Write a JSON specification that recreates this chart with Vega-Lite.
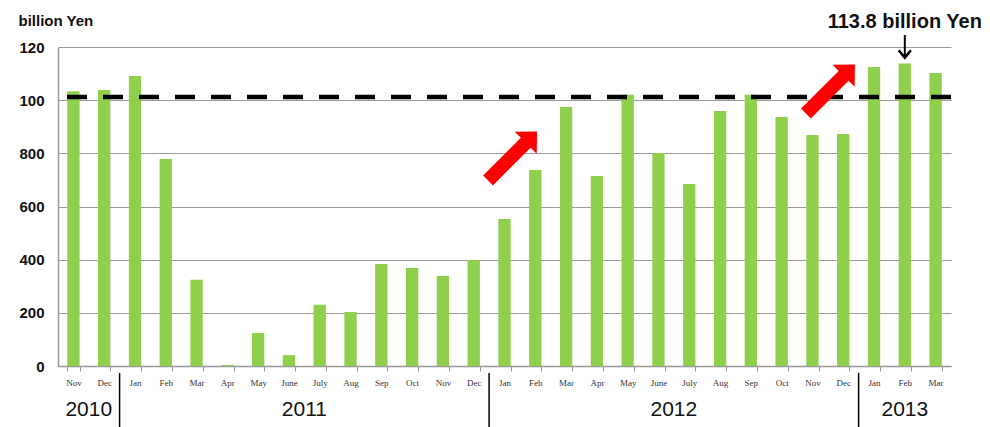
{
  "$schema": "https://vega.github.io/schema/vega-lite/v6.json",
  "width": 893,
  "height": 319,
  "autosize": {"type": "none"},
  "padding": {"left": 58, "top": 47, "right": 39, "bottom": 61},
  "background": "white",
  "config": {"view": {"stroke": null}},
  "data": {"values": [
    {"m": "Nov 2010", "v": 1034},
    {"m": "Dec 2010", "v": 1038},
    {"m": "Jan 2011", "v": 1091},
    {"m": "Feb 2011", "v": 779},
    {"m": "Mar 2011", "v": 324},
    {"m": "Apr 2011", "v": 4},
    {"m": "May 2011", "v": 124},
    {"m": "June 2011", "v": 41},
    {"m": "July 2011", "v": 230},
    {"m": "Aug 2011", "v": 203},
    {"m": "Sep 2011", "v": 384},
    {"m": "Oct 2011", "v": 369},
    {"m": "Nov 2011", "v": 339},
    {"m": "Dec 2011", "v": 399},
    {"m": "Jan 2012", "v": 553},
    {"m": "Feb 2012", "v": 737},
    {"m": "Mar 2012", "v": 974},
    {"m": "Apr 2012", "v": 715},
    {"m": "May 2012", "v": 1020},
    {"m": "June 2012", "v": 801},
    {"m": "July 2012", "v": 685},
    {"m": "Aug 2012", "v": 959},
    {"m": "Sep 2012", "v": 1020},
    {"m": "Oct 2012", "v": 937},
    {"m": "Nov 2012", "v": 869},
    {"m": "Dec 2012", "v": 873},
    {"m": "Jan 2013", "v": 1125},
    {"m": "Feb 2013", "v": 1138},
    {"m": "Mar 2013", "v": 1102}
  ]},
  "encoding": {
    "x": {
      "field": "m", "type": "nominal", "sort": null,
      "scale": {
        "domain": ["Nov 2010","Dec 2010","Jan 2011","Feb 2011","Mar 2011","Apr 2011","May 2011","June 2011","July 2011","Aug 2011","Sep 2011","Oct 2011","Nov 2011","Dec 2011","Jan 2012","Feb 2012","Mar 2012","Apr 2012","May 2012","June 2012","July 2012","Aug 2012","Sep 2012","Oct 2012","Nov 2012","Dec 2012","Jan 2013","Feb 2013","Mar 2013"],
        "paddingInner": 0.6, "paddingOuter": 0.3
      },
      "axis": {
        "title": null, "labelAngle": 0,
        "labelExpr": "split(datum.label, ' ')[0]",
        "labelFont": "Liberation Serif", "labelFontSize": 9, "labelColor": "#333333",
        "labelPadding": 7, "tickBand": "extent", "tickSize": 5,
        "tickColor": "#999999", "domainColor": "#999999", "domainWidth": 1.5,
        "grid": false
      }
    }
  },
  "layer": [
    {
      "mark": {"type": "bar", "color": "#8fcf4c"},
      "encoding": {
        "y": {
          "field": "v", "type": "quantitative",
          "scale": {"domain": [0, 1200], "nice": false},
          "axis": {
            "values": [0, 200, 400, 600, 800, 1000, 1200],
            "labelExpr": "datum.value >= 1000 ? datum.value / 10 : datum.value",
            "labelFont": "Liberation Sans", "labelFontSize": 15, "labelFontWeight": "bold",
            "labelColor": "#111111", "labelPadding": 14,
            "ticks": false, "domainColor": "#999999", "domainWidth": 1.5,
            "gridColor": "#9a9a9a", "gridWidth": 1.2,
            "title": "billion Yen", "titleAngle": 0, "titleAlign": "left",
            "titleBaseline": "middle", "titleX": -40, "titleY": -27,
            "titleFont": "Liberation Sans", "titleFontSize": 15, "titleFontWeight": "bold",
            "titleColor": "#111111"
          }
        }
      }
    },
    {
      "data": {"values": [{"v": 1012}]},
      "mark": {"type": "rule", "color": "black", "strokeWidth": 4.5, "strokeDash": [20, 16]},
      "encoding": {"y": {"field": "v", "type": "quantitative"}, "x": null}
    },
    {
      "data": {"values": [{"m": "Jan 2012", "v": 790}]},
      "mark": {"type": "point", "filled": true, "color": "#ff0000", "opacity": 1, "angle": 45, "size": 4800,
               "shape": "M-0.2,1L0.2,1L0.2,-0.54L0.45,-0.54L0,-1L-0.45,-0.54L-0.2,-0.54Z"},
      "encoding": {"x": {"field": "m", "type": "nominal", "bandPosition": 1.15}, "y": {"field": "v", "type": "quantitative"}}
    },
    {
      "data": {"values": [{"m": "Nov 2012", "v": 1042}]},
      "mark": {"type": "point", "filled": true, "color": "#ff0000", "opacity": 1, "angle": 45, "size": 4800,
               "shape": "M-0.2,1L0.2,1L0.2,-0.54L0.45,-0.54L0,-1L-0.45,-0.54L-0.2,-0.54Z"},
      "encoding": {"x": {"field": "m", "type": "nominal", "bandPosition": 1.96}, "y": {"field": "v", "type": "quantitative"}}
    },
    {
      "data": {"values": [{"m": "Feb 2013", "v": 1295, "t": "113.8 billion Yen"}]},
      "mark": {"type": "text", "font": "Liberation Sans", "fontSize": 20, "fontWeight": "bold", "color": "#111111", "baseline": "middle"},
      "encoding": {"x": {"field": "m", "type": "nominal"}, "y": {"field": "v", "type": "quantitative"}, "text": {"field": "t"}}
    },
    {
      "data": {"values": [{"m": "Feb 2013", "v": 1245, "v2": 1162}]},
      "mark": {"type": "rule", "color": "black", "strokeWidth": 2},
      "encoding": {"x": {"field": "m", "type": "nominal"}, "y": {"field": "v", "type": "quantitative"}, "y2": {"field": "v2"}}
    },
    {
      "data": {"values": [{"m": "Feb 2013", "v": 1160}]},
      "mark": {"type": "point", "filled": false, "color": "black", "strokeWidth": 2.6, "opacity": 1, "size": 150,
               "shape": "M-1,-1.2L0,0L1,-1.2"},
      "encoding": {"x": {"field": "m", "type": "nominal"}, "y": {"field": "v", "type": "quantitative"}}
    },
    {
      "data": {"values": [{"m": "Dec 2010", "v": -26, "v2": -230}, {"m": "Dec 2011", "v": -26, "v2": -230}, {"m": "Dec 2012", "v": -26, "v2": -230}]},
      "mark": {"type": "rule", "color": "black", "strokeWidth": 1.5},
      "encoding": {"x": {"field": "m", "type": "nominal", "bandPosition": 1.75}, "y": {"field": "v", "type": "quantitative"}, "y2": {"field": "v2"}}
    },
    {
      "data": {"values": [{"m": "Nov 2010", "v": -165, "t": "2010"}, {"m": "June 2011", "v": -165, "t": "2011"}, {"m": "June 2012", "v": -165, "t": "2012"}]},
      "mark": {"type": "text", "font": "Liberation Sans", "fontSize": 21, "color": "#111111", "baseline": "middle"},
      "encoding": {"x": {"field": "m", "type": "nominal", "bandPosition": 1.75}, "y": {"field": "v", "type": "quantitative"}, "text": {"field": "t"}}
    },
    {
      "data": {"values": [{"m": "Feb 2013", "v": -165, "t": "2013"}]},
      "mark": {"type": "text", "font": "Liberation Sans", "fontSize": 21, "color": "#111111", "baseline": "middle"},
      "encoding": {"x": {"field": "m", "type": "nominal"}, "y": {"field": "v", "type": "quantitative"}, "text": {"field": "t"}}
    }
  ]
}
